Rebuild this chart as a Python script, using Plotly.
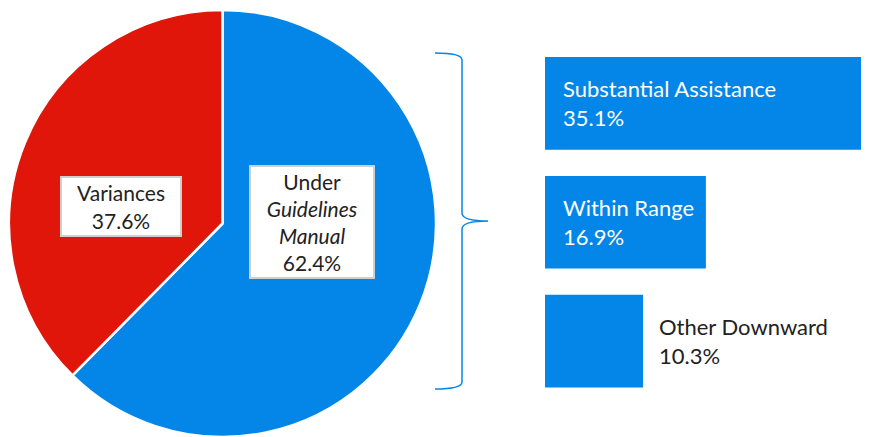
import plotly.graph_objects as go

# pie: sentences under the Guidelines Manual vs variances
pie_labels = ["Under Guidelines Manual", "Variances"]
pie_values = [62.4, 37.6]
pie_text = ["Under<br><i>Guidelines</i><br><i>Manual</i><br>62.4%", "Variances<br>37.6%"]

# bars: breakdown of the Guidelines Manual share
bar_labels = ["Substantial Assistance", "Within Range", "Other Downward"]
bar_values = [35.1, 16.9, 10.3]

BLUE = "#0386E8"
RED = "#E0160A"
FONT = "Lato"

# the page puts the figure 8px in from the top-left corner,
# so the figure is a little smaller than the 869x437 window
OFF = 8
W, H = 869 - OFF, 437 - OFF


def px(x, y):
    """window pixel position -> paper coordinates"""
    return (x - OFF) / W, 1 - (y - OFF) / H


fig = go.Figure()

fig.add_trace(
    go.Pie(
        labels=pie_labels,
        values=pie_values,
        sort=False,
        direction="clockwise",
        rotation=0,
        marker=dict(colors=[BLUE, RED], line=dict(color="white", width=2.5)),
        textinfo="none",
        hoverinfo="label+percent",
        showlegend=False,
        domain=dict(x=[0, 429 / W], y=[0, 1 - 2 / H]),
    )
)

fig.add_trace(
    go.Bar(
        x=bar_values,
        y=bar_labels,
        orientation="h",
        marker=dict(color=BLUE, line=dict(width=0)),
        showlegend=False,
        hoverinfo="x+y",
    )
)

# labels on the pie (white boxes)
boxes = [
    dict(text=pie_text[0], pos=(311.5, 222), w=116, h=104),
    dict(text=pie_text[1], pos=(121, 206.5), w=112, h=51),
]
for b in boxes:
    bx, by = px(*b["pos"])
    fig.add_annotation(
        x=bx, y=by, xref="paper", yref="paper",
        text=b["text"], showarrow=False,
        xanchor="center", yanchor="middle", align="center",
        width=b["w"], height=b["h"],
        bgcolor="white", bordercolor="#CFCFCF", borderwidth=2, borderpad=3,
        font=dict(family=FONT, size=21, color="#222222"),
    )

# bar labels
for i, (lab, val) in enumerate(zip(bar_labels, bar_values)):
    txt = f"{lab}<br>{val}%"
    inside = i < 2
    fig.add_annotation(
        x=0 if inside else val, y=lab, xref="x", yref="y",
        text=txt, showarrow=False,
        xanchor="left", yanchor="middle", align="left",
        xshift=16 if inside else 14,
        font=dict(family=FONT, size=22, color="white" if inside else "#222222"),
    )

# curly brace linking the pie to the bars
pts = {
    "a": px(435, 53), "b": px(462, 60), "c": px(462, 213),
    "d": px(488, 221), "e": px(462, 229), "f": px(462, 382), "g": px(435, 389),
    "q1": px(462, 53), "q2": px(462, 221), "q3": px(462, 221), "q4": px(462, 389),
}
path = (
    f"M {pts['a'][0]},{pts['a'][1]} Q {pts['q1'][0]},{pts['q1'][1]} {pts['b'][0]},{pts['b'][1]} "
    f"L {pts['c'][0]},{pts['c'][1]} Q {pts['q2'][0]},{pts['q2'][1]} {pts['d'][0]},{pts['d'][1]} "
    f"Q {pts['q3'][0]},{pts['q3'][1]} {pts['e'][0]},{pts['e'][1]} "
    f"L {pts['f'][0]},{pts['f'][1]} Q {pts['q4'][0]},{pts['q4'][1]} {pts['g'][0]},{pts['g'][1]}"
)
fig.add_shape(type="path", path=path, xref="paper", yref="paper",
              line=dict(color=BLUE, width=1.5))

x0 = px(545, 0)[0]
fig.update_layout(
    width=W, height=H,
    margin=dict(l=0, r=0, t=0, b=0),
    paper_bgcolor="white",
    plot_bgcolor="white",
    bargap=0.22,
    font=dict(family=FONT),
    xaxis=dict(domain=[x0, 1], range=[0, (869 - 545) / 9.52], visible=False, fixedrange=True),
    yaxis=dict(domain=[px(0, 400.5)[1], px(0, 44)[1]], categoryorder="array",
               categoryarray=bar_labels, autorange="reversed", visible=False),
)

fig.write_html("out.html")
